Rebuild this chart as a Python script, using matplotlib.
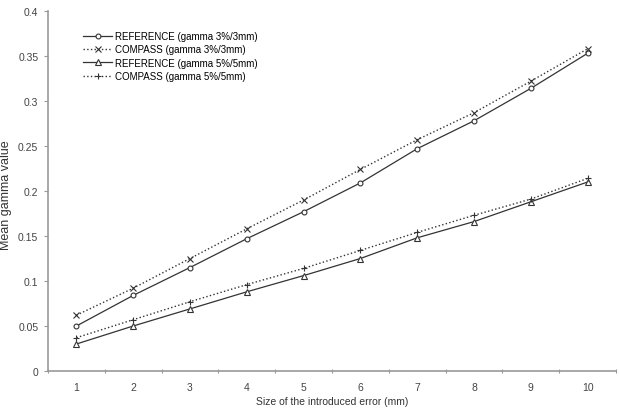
import numpy as np
import matplotlib.pyplot as plt
from matplotlib.ticker import FixedLocator, FuncFormatter

plt.rcParams['font.family'] = ['Liberation Sans', 'DejaVu Sans']

# ==================== Data ====================
error_mm = [1, 2, 3, 4, 5, 6, 7, 8, 9, 10]

ref_3mm = [0.050, 0.084, 0.115, 0.147, 0.177, 0.209, 0.247, 0.278, 0.314, 0.353]
compass_3mm = [0.062, 0.092, 0.125, 0.158, 0.190, 0.224, 0.257, 0.287, 0.322, 0.358]
ref_5mm = [0.030, 0.050, 0.069, 0.088, 0.106, 0.125, 0.148, 0.166, 0.188, 0.210]
compass_5mm = [0.037, 0.057, 0.077, 0.096, 0.114, 0.134, 0.154, 0.173, 0.191, 0.214]

# ==================== Plot ====================
fig = plt.figure(figsize=(6.19, 4.10), dpi=100)
ax = fig.add_axes([48 / 619, 38 / 410, 568 / 619, 360 / 410])

lc = '#333333'
ax.plot(error_mm, ref_3mm, '-', color=lc, lw=0.9, marker='o', ms=3.5,
        mfc='white', mec=lc, mew=0.8, label='REFERENCE (gamma 3%/3mm)')
ax.plot(error_mm, compass_3mm, ':', color=lc, lw=1.0, marker='x', ms=4,
        mec=lc, mew=0.8, label='COMPASS (gamma 3%/3mm)')
ax.plot(error_mm, ref_5mm, '-', color=lc, lw=0.9, marker='^', ms=3.8,
        mfc='white', mec=lc, mew=0.8, label='REFERENCE (gamma 5%/5mm)')
ax.plot(error_mm, compass_5mm, ':', color=lc, lw=1.0, marker='+', ms=5,
        mec=lc, mew=0.8, label='COMPASS (gamma 5%/5mm)')

ax.set_xlim(0.5, 10.5)
ax.set_ylim(0, 0.4)

# category-style axis: ticks between categories, labels at centres
ax.xaxis.set_major_locator(FixedLocator(np.arange(0.5, 11, 1)))
ax.xaxis.set_major_formatter(FuncFormatter(lambda v, p: ''))
ax.xaxis.set_minor_locator(FixedLocator(error_mm))
ax.xaxis.set_minor_formatter(FuncFormatter(lambda v, p: f'{int(v)}'))
ax.tick_params(axis='x', which='major', length=3, width=0.8, color='#999999', direction='inout')
ax.tick_params(axis='x', which='minor', length=0, pad=8, labelsize=7.5, labelcolor='#444444')

ax.set_yticks(np.arange(0, 0.41, 0.05))
ax.yaxis.set_major_formatter(FuncFormatter(lambda v, p: f'{v:g}'))
ax.tick_params(axis='y', length=3, width=0.8, color='#999999', labelsize=7.5,
               labelcolor='#444444', pad=4)

for s in ['top', 'right']:
    ax.spines[s].set_visible(False)
for s in ['left', 'bottom']:
    ax.spines[s].set_color('#999999')
    ax.spines[s].set_linewidth(1.2)

ax.set_xlabel('Size of the introduced error (mm)', fontsize=7.5, color='#333333')
ax.set_ylabel('Mean gamma value', fontsize=9, color='#333333')
ax.xaxis.set_label_coords(0.5, -0.07)
ax.yaxis.set_label_coords(-0.064, 0.49)

ax.legend(loc='upper left', bbox_to_anchor=(0.055, 0.955), frameon=False, fontsize=7,
          handlelength=3.0, handletextpad=0.25, labelspacing=0.35, borderaxespad=0)

plt.savefig('out.png', dpi=100)
